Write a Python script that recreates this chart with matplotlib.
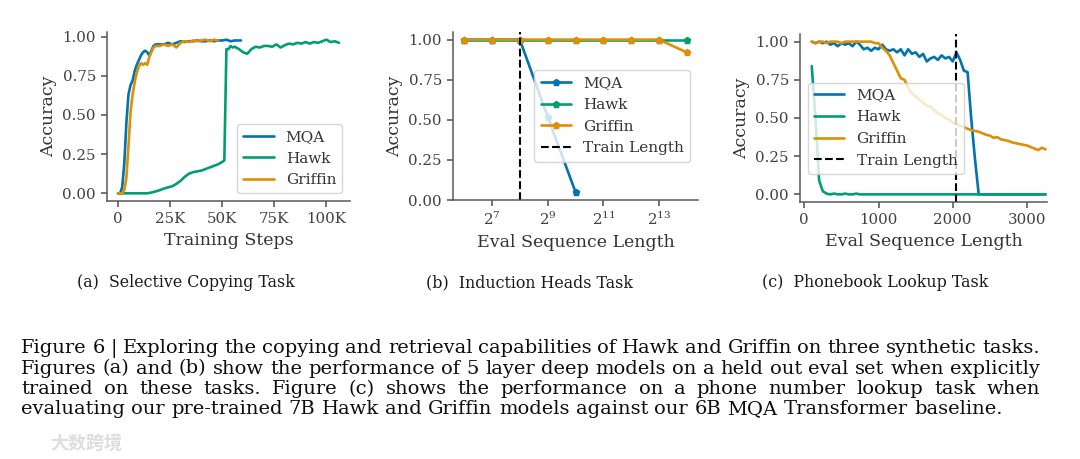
import numpy as np
import matplotlib
matplotlib.use("Agg")
import matplotlib.pyplot as plt
import seaborn as sns

# ---- data ----
# (a) selective copying
mqa_a_steps = [0, 1000, 2000, 3000, 4000, 5000, 6000, 7000, 8000, 9000, 10000, 11000, 12000,
               13000, 14000, 15000, 16000, 17000, 18000, 20000, 22000, 24000, 26000, 28000,
               30000, 32000, 34000, 36000, 38000, 40000, 42000, 44000, 46000, 48000, 50000,
               52000, 54000, 56000, 58000, 59000]
mqa_a_acc = [0.0, 0.0, 0.04, 0.19, 0.45, 0.63, 0.69, 0.72, 0.78, 0.82, 0.85, 0.88, 0.90,
             0.91, 0.90, 0.88, 0.91, 0.94, 0.95, 0.95, 0.95, 0.96, 0.95, 0.96,
             0.97, 0.965, 0.97, 0.97, 0.975, 0.97, 0.97, 0.975, 0.97, 0.975, 0.975,
             0.98, 0.97, 0.975, 0.975, 0.975]

griffin_a_steps = [0, 1000, 2000, 3000, 4000, 5000, 6000, 7000, 8000, 9000, 10000, 11000,
                   12000, 13000, 14000, 15000, 16000, 17000, 18000, 20000, 22000, 24000,
                   26000, 28000, 30000, 32000, 34000, 36000, 38000, 40000, 42000, 44000,
                   46000, 48000]
griffin_a_acc = [0.0, 0.0, 0.0, 0.02, 0.10, 0.30, 0.52, 0.63, 0.71, 0.77, 0.81, 0.83,
                 0.82, 0.83, 0.82, 0.87, 0.90, 0.93, 0.94, 0.94, 0.95, 0.94,
                 0.95, 0.93, 0.96, 0.97, 0.965, 0.975, 0.97, 0.975, 0.98, 0.97,
                 0.98, 0.975]

hawk_a_steps = [0, 5000, 10000, 14000, 16000, 18000, 20000, 22000, 24000, 26000, 28000,
                30000, 32000, 34000, 36000, 38000, 40000, 42000, 44000, 46000, 48000,
                50000, 51000, 52000, 53000, 54000, 55000, 56000, 58000, 60000, 62000,
                64000, 66000, 68000, 70000, 72000, 74000, 76000, 78000, 80000, 82000,
                84000, 86000, 88000, 90000, 92000, 94000, 96000, 98000, 100000, 102000,
                104000, 106000]
hawk_a_acc = [0.0, 0.0, 0.0, 0.0, 0.005, 0.012, 0.02, 0.03, 0.038, 0.045, 0.06,
              0.08, 0.105, 0.125, 0.135, 0.14, 0.145, 0.155, 0.165, 0.175, 0.185,
              0.20, 0.21, 0.92, 0.92, 0.94, 0.93, 0.935, 0.92, 0.90, 0.89,
              0.92, 0.935, 0.93, 0.94, 0.94, 0.935, 0.95, 0.93, 0.945, 0.955,
              0.95, 0.96, 0.955, 0.965, 0.955, 0.965, 0.96, 0.97, 0.98, 0.965,
              0.97, 0.96]

# (b) induction heads
seq_lens = [64, 128, 256, 512, 1024, 2048, 4096, 8192, 16384]
mqa_b = [1.0, 1.0, 1.0, 0.52, 0.05]
hawk_b = [1.0, 1.0, 1.0, 1.0, 1.0, 1.0, 1.0, 1.0, 1.0]
griffin_b = [1.0, 1.0, 1.0, 1.0, 1.0, 1.0, 1.0, 1.0, 0.92]
train_len_b = 256

# (c) phonebook lookup, sampled every 50 tokens from 100 to 3250
lookup_len = np.arange(100, 3251, 50)
mqa_c = [1.00, 0.99, 1.00, 0.99, 1.00, 0.98, 0.99, 0.97, 0.99, 0.98, 0.99, 0.97, 1.00,
         0.98, 0.95, 0.96, 0.94, 0.96, 0.95, 0.98, 0.95, 0.94, 0.95, 0.93, 0.95, 0.91,
         0.95, 0.92, 0.93, 0.90, 0.92, 0.87, 0.89, 0.90, 0.88, 0.91, 0.89, 0.90, 0.87,
         0.93, 0.88, 0.81, 0.80, 0.49, 0.23, 0.00] + [0.0] * 18  # flat at zero after 2350
hawk_c = [0.84, 0.50, 0.09, 0.02, 0.005, 0.0, 0.005, 0.0, 0.0, 0.005, 0.0, 0.0,
          0.005] + [0.0] * 51  # flat at zero after 700
griffin_c = [1.00, 0.99, 1.00, 1.00, 0.99, 1.00, 1.00, 1.00, 0.99, 1.00, 1.00, 1.00,
             1.00, 1.00, 1.00, 1.00, 1.00, 0.99,
             0.99, 0.96, 0.94, 0.91, 0.86, 0.81, 0.76, 0.75, 0.70, 0.66, 0.64, 0.62,
             0.60, 0.58, 0.575, 0.55, 0.53, 0.52, 0.50, 0.49, 0.47, 0.46, 0.45, 0.44,
             0.43, 0.42, 0.415, 0.41, 0.40, 0.39, 0.385, 0.37, 0.375, 0.36, 0.355, 0.35,
             0.34, 0.335, 0.33, 0.325, 0.32, 0.31, 0.30, 0.29, 0.305, 0.295]
train_len_c = 2048

acc_ticks = [0.0, 0.25, 0.5, 0.75, 1.0]
step_ticks = [0, 25000, 50000, 75000, 100000]
step_labels = ["0", "25K", "50K", "75K", "100K"]

subcaptions = ["(a)  Selective Copying Task", "(b)  Induction Heads Task", "(c)  Phonebook Lookup Task"]
caption_lines = [
    "Figure 6 | Exploring the copying and retrieval capabilities of Hawk and Griffin on three synthetic tasks.",
    "Figures (a) and (b) show the performance of 5 layer deep models on a held out eval set when explicitly",
    "trained on these tasks. Figure (c) shows the performance on a phone number lookup task when",
    "evaluating our pre-trained 7B Hawk and Griffin models against our 6B MQA Transformer baseline.",
]

# ---- style ----
sns.set_theme(style="ticks")
plt.rcParams["font.family"] = ["DejaVu Serif"]
plt.rcParams["mathtext.fontset"] = "dejavuserif"
plt.rcParams["text.color"] = "0.2"
plt.rcParams["axes.labelcolor"] = "0.2"
plt.rcParams["xtick.color"] = "0.3"
plt.rcParams["ytick.color"] = "0.3"
plt.rcParams["xtick.labelcolor"] = "0.25"
plt.rcParams["ytick.labelcolor"] = "0.25"
plt.rcParams["axes.edgecolor"] = "0.35"
plt.rcParams["axes.linewidth"] = 1.1
plt.rcParams["xtick.major.size"] = 4.5
plt.rcParams["ytick.major.size"] = 4.5
plt.rcParams["xtick.major.width"] = 1.1
plt.rcParams["ytick.major.width"] = 1.1

blue, green, orange = "#0173b2", "#029e73", "#de8f05"

W, H = 1080, 459
fig = plt.figure(figsize=(W / 100, H / 100), dpi=100)


def px_axes(left, top, right, bottom):
    return fig.add_axes([left / W, 1 - bottom / H, (right - left) / W, (bottom - top) / H])


ax1 = px_axes(107, 32, 350, 201)
ax2 = px_axes(453, 32, 698, 200)
ax3 = px_axes(800, 34, 1047, 202)

# (a)
ax1.plot(mqa_a_steps, mqa_a_acc, color=blue, lw=1.9, label="MQA")
ax1.plot(hawk_a_steps, hawk_a_acc, color=green, lw=1.9, label="Hawk")
ax1.plot(griffin_a_steps, griffin_a_acc, color=orange, lw=1.9, label="Griffin")
ax1.set_xticks(step_ticks)
ax1.set_xticklabels(step_labels)
ax1.set_xlabel("Training Steps", fontsize=12.5)
ax1.legend(loc="lower right", fontsize=11)

# (b)
ax2.plot(seq_lens[:len(mqa_b)], mqa_b, color=blue, lw=1.9, marker="p", ms=5, label="MQA")
ax2.plot(seq_lens, hawk_b, color=green, lw=1.9, marker="p", ms=5, label="Hawk")
ax2.plot(seq_lens, griffin_b, color=orange, lw=1.9, marker="p", ms=5, label="Griffin")
ax2.axvline(train_len_b, color="black", ls="--", lw=1.5, label="Train Length")
ax2.set_xscale("log", base=2)
ax2.set_xticks([2 ** 7, 2 ** 9, 2 ** 11, 2 ** 13])
ax2.set_xticklabels(["$2^{7}$", "$2^{9}$", "$2^{11}$", "$2^{13}$"])
ax2.xaxis.set_minor_locator(matplotlib.ticker.NullLocator())
ax2.set_xlabel("Eval Sequence Length", fontsize=12.5)
ax2.legend(loc="center right", fontsize=11)

# (c)
ax3.plot(lookup_len, mqa_c, color=blue, lw=1.9, label="MQA")
ax3.plot(lookup_len, hawk_c, color=green, lw=1.9, label="Hawk")
ax3.plot(lookup_len, griffin_c, color=orange, lw=1.9, label="Griffin")
ax3.axvline(train_len_c, color="black", ls="--", lw=1.5, label="Train Length")
ax3.set_xlim(-58, 3270)
ax3.set_xticks([0, 1000, 2000, 3000])
ax3.set_xlabel("Eval Sequence Length", fontsize=12.5)
ax3.legend(loc="center left", bbox_to_anchor=(0, 0.44), fontsize=11)

for ax in (ax1, ax2, ax3):
    ax.set_yticks(acc_ticks)
    ax.set_yticklabels([f"{v:.2f}" for v in acc_ticks])
    ax.set_ylabel("Accuracy", fontsize=12.5)
    ax.tick_params(labelsize=10.8)
    sns.despine(ax=ax)

# ---- sub captions and figure caption ----
for text, cx in zip(subcaptions, [186, 530, 875]):
    fig.text(cx / W, 1 - 287 / H, text, ha="center", va="baseline", fontsize=11.4, color="0.1")

renderer = fig.canvas.get_renderer()
cap_kw = dict(fontsize=14, color="0.05", va="baseline")
probe = fig.text(0, 0, "x x", **cap_kw)
probe2 = fig.text(0, 0, "xx", **cap_kw)
space_w = probe.get_window_extent(renderer).width - probe2.get_window_extent(renderer).width
probe.remove()
probe2.remove()

left_px, right_px = 21, 1040
baselines = [353, 373.5, 394, 414]
for i, (line, base) in enumerate(zip(caption_lines, baselines)):
    words = line.split()
    arts = [fig.text(0, 1 - base / H, w, **cap_kw) for w in words]
    widths = [a.get_window_extent(renderer).width for a in arts]
    if i == len(caption_lines) - 1:
        gap = space_w
    else:
        gap = max((right_px - left_px - sum(widths)) / (len(words) - 1), 0.6 * space_w)
    x = left_px
    for a, w in zip(arts, widths):
        a.set_x(x / W)
        x += w + gap

# watermark in the bottom left corner
fig.text(50 / W, 1 - 449 / H, "大数跨境", family=["Noto Sans CJK SC", "DejaVu Sans"],
         fontsize=13, fontweight="bold", color="#d8d8d8", alpha=0.85)

fig.savefig("out.png", dpi=100)
